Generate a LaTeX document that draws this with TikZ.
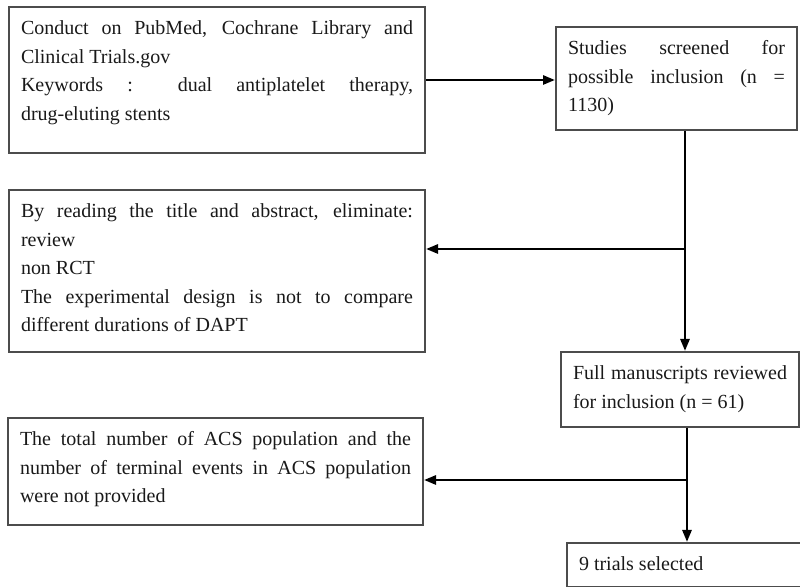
\documentclass[tikz,border=0pt]{standalone}
\usepackage{fontspec}
\setmainfont{Liberation Serif}
\usetikzlibrary{arrows.meta}
\newcommand{\flowtext}[3]{\parbox[c][#2][t]{#1}{\strut #3}}

\begin{document}
\begin{tikzpicture}[x=0.5pt,y=-0.5pt,
    flowbox/.style={draw=black!70,line width=1pt,anchor=north west,inner xsep=6pt,inner ysep=4pt,text=black!90,font=\fontsize{10}{14.25}\selectfont},
    flowline/.style={line width=1.3pt},
    flowarrow/.style={line width=1.3pt,-{Triangle[length=6pt,width=4.5pt]}}]
            \useasboundingbox (0,0) rectangle (800,587);
            \node[flowbox] (search) at (8,6) {\flowtext{196pt}{65pt}{Conduct on PubMed, Cochrane Library and\linebreak Clinical Trials.gov\\Keywords : dual antiplatelet therapy,\linebreak drug-eluting stents}};
            \node[flowbox] (screened) at (555,26) {\flowtext{108.5pt}{43.5pt}{Studies screened for\linebreak possible inclusion (n =\linebreak 1130)}};
            \node[flowbox] (excluded) at (8,189) {\flowtext{196pt}{73pt}{By reading the title and abstract, eliminate:\linebreak review\\non RCT\\The experimental design is not to compare\linebreak different durations of DAPT}};
            \node[flowbox] (fulltext) at (560,351) {\flowtext{107pt}{29.5pt}{Full manuscripts reviewed\linebreak for inclusion (n = 61)}};
            \node[flowbox] (unreported) at (7,417) {\flowtext{195.5pt}{45.5pt}{The total number of ACS population and the\linebreak number of terminal events in ACS population\linebreak were not provided}};
            \node[flowbox] (selected) at (566,542) {\flowtext{106.5pt}{14pt}{9 trials selected}};
            \coordinate (split1) at (685,249);
            \coordinate (split2) at (687,480);
            \draw[flowarrow] (search.east) -- (search.east -| screened.west);
            \draw[flowline] (screened.south -| split1) -- (split1);
            \draw[flowarrow] (split1) -- (fulltext.north -| split1);
            \draw[flowarrow] (split1) -- (excluded.east |- split1);
            \draw[flowline] (fulltext.south -| split2) -- (split2);
            \draw[flowarrow] (split2) -- (selected.north -| split2);
            \draw[flowarrow] (split2) -- (unreported.east |- split2);
\end{tikzpicture}
\end{document}
